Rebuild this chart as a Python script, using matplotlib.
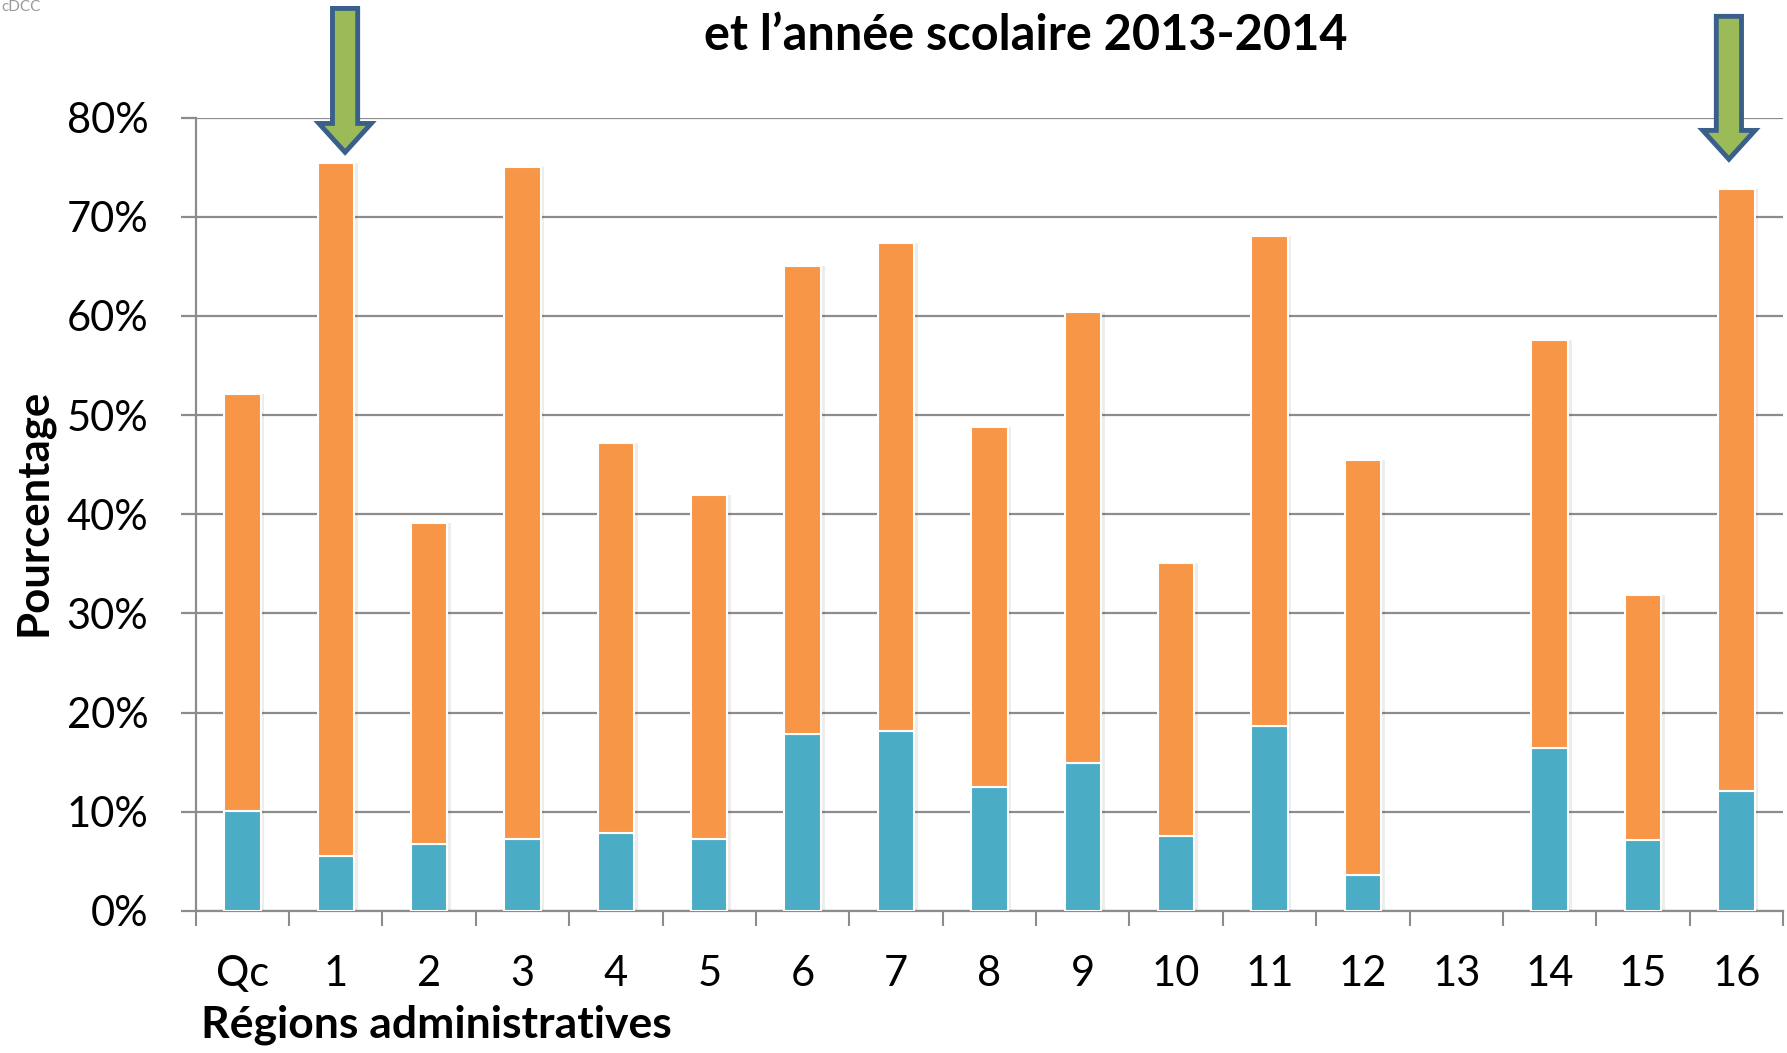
import matplotlib
matplotlib.use("Agg")
import matplotlib.pyplot as plt
import numpy as np

# data (percent); region 13 has no data
regions = ["Qc", "1", "2", "3", "4", "5", "6", "7", "8", "9", "10", "11", "12", "13", "14", "15", "16"]
blue_vals = [10.1, 5.5, 6.8, 7.3, 7.9, 7.3, 17.8, 18.1, 12.5, 14.9, 7.6, 18.6, 3.6, np.nan, 16.4, 7.2, 12.1]
orange_vals = [42.0, 69.9, 32.3, 67.7, 39.3, 34.6, 47.2, 49.2, 36.3, 45.5, 27.5, 49.5, 41.9, np.nan, 41.2, 24.7, 60.7]
yticks = [0, 10, 20, 30, 40, 50, 60, 70, 80]

plt.rcParams['font.family'] = ['Lato', 'DejaVu Sans']

blue = "#4BACC6"
orange = "#F79646"
grid_c = "#8c8c8c"

fig = plt.figure(figsize=(17.87, 10.53), dpi=100)
ax = fig.add_axes([0.1095, 0.1349, 0.8883, 0.7535])

x = np.arange(len(regions))
w = 0.39
# faint shadow behind bars
tot = np.array(blue_vals) + np.array(orange_vals)
ax.bar(x + 0.03, tot, w + 0.02, color="#000000", alpha=0.07, zorder=2, linewidth=0)
ax.bar(x, blue_vals, w, color=blue, edgecolor="white", linewidth=1.5, zorder=3)
ax.bar(x, orange_vals, w, bottom=blue_vals, color=orange, edgecolor="white", linewidth=1.5, zorder=3)

ax.set_xlim(-0.5, len(regions) - 0.5)
ax.set_ylim(0, 80)
ax.set_yticks(yticks)
ax.set_yticklabels([f"{v}%" for v in yticks])
ax.yaxis.grid(True, color=grid_c, linewidth=1.6, zorder=0)
ax.set_axisbelow(True)

ax.set_xticks(np.arange(-0.5, len(regions), 1.0))
ax.set_xticklabels([])
ax.set_xticks(x, minor=True)
ax.set_xticklabels(regions, minor=True)
ax.tick_params(axis='x', which='major', length=11, width=1.5, color=grid_c, direction='out')
ax.tick_params(axis='x', which='minor', length=0, pad=32, labelsize=30)
ax.tick_params(axis='y', length=11, width=1.6, color=grid_c, pad=23, labelsize=30)

for s in ['top', 'right']:
    ax.spines[s].set_visible(False)
for s in ['left', 'bottom']:
    ax.spines[s].set_color(grid_c)
    ax.spines[s].set_linewidth(1.6)

# highlight arrows above regions 1 and 16
for xc, y0, y1 in [(1.1, 91.0, 76.5), (15.92, 90.2, 75.8)]:
    ax.arrow(xc, y0, 0, y1 - y0, width=0.27, head_width=0.56, head_length=2.9,
             length_includes_head=True, facecolor="#9BBB59", edgecolor="#3A5F8B",
             linewidth=3.5, clip_on=False, zorder=5)

fig.text(0.574, 0.966, "et l\u2019année scolaire 2013-2014", fontsize=35, fontweight='bold',
         ha='center', va='center')
fig.text(0.019, 0.513, "Pourcentage", fontsize=31.5, fontweight='bold', rotation=90,
         ha='center', va='center')
fig.text(0.1125, 0.027, "Régions administratives", fontsize=32, fontweight='bold',
         ha='left', va='center')
fig.text(0.001, 0.993, "cDCC", fontsize=11, color="#9a9a9a", ha='left', va='center')

fig.savefig("out.png", dpi=100)
plt.close(fig)
